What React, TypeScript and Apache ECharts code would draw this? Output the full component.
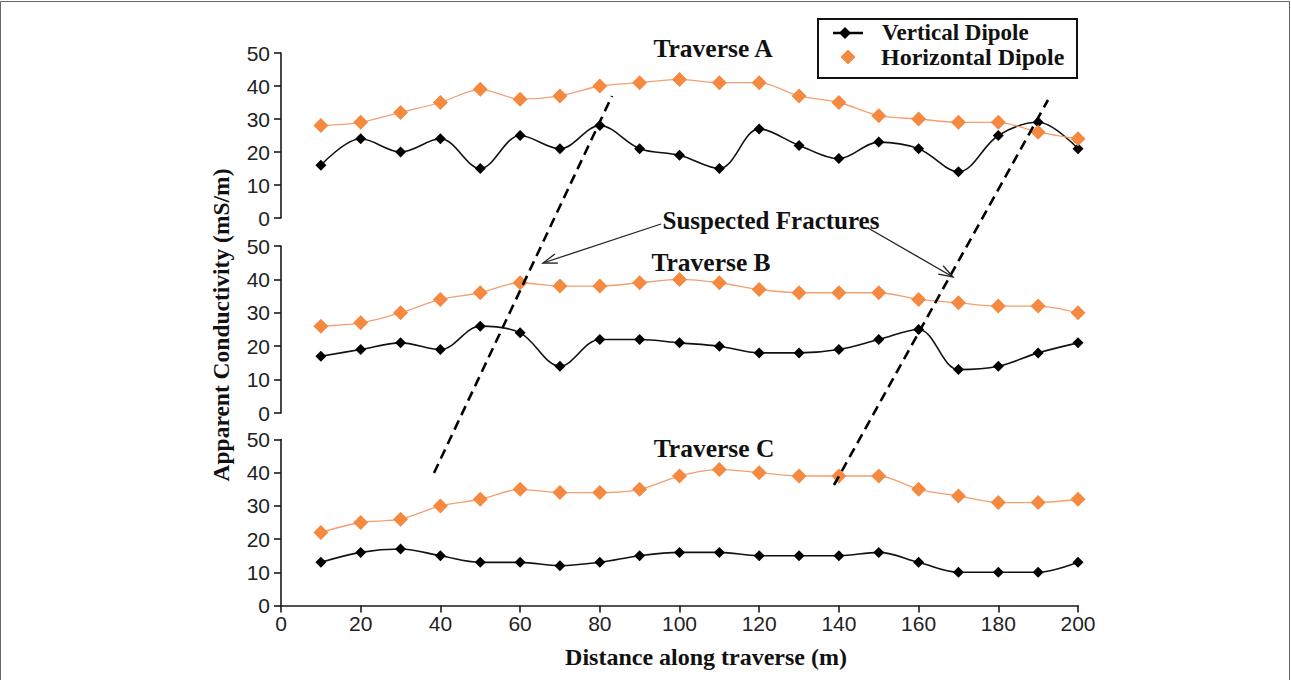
import React, { useEffect, useRef } from "react";
import * as echarts from "echarts";

// ---- data ----
const distances = [10, 20, 30, 40, 50, 60, 70, 80, 90, 100, 110, 120, 130, 140, 150, 160, 170, 180, 190, 200];
const xTicks = { min: 0, max: 200, interval: 20 };
const yTicks = { min: 0, max: 50, interval: 10 };

const traverseAVertical = [16, 24, 20, 24, 15, 25, 21, 28, 21, 19, 15, 27, 22, 18, 23, 21, 14, 25, 29, 21];
const traverseAHorizontal = [28, 29, 32, 35, 39, 36, 37, 40, 41, 42, 41, 41, 37, 35, 31, 30, 29, 29, 26, 24];
const traverseBVertical = [17, 19, 21, 19, 26, 24, 14, 22, 22, 21, 20, 18, 18, 19, 22, 25, 13, 14, 18, 21];
const traverseBHorizontal = [26, 27, 30, 34, 36, 39, 38, 38, 39, 40, 39, 37, 36, 36, 36, 34, 33, 32, 32, 30];
const traverseCVertical = [13, 16, 17, 15, 13, 13, 12, 13, 15, 16, 16, 15, 15, 15, 16, 13, 10, 10, 10, 13];
const traverseCHorizontal = [22, 25, 26, 30, 32, 35, 34, 34, 35, 39, 41, 40, 39, 39, 39, 35, 33, 31, 31, 32];

const panelTitles = ["Traverse A", "Traverse B", "Traverse C"];
const seriesNames = ["Vertical Dipole", "Horizontal Dipole"];
const xAxisTitle = "Distance along traverse (m)";
const yAxisTitle = "Apparent Conductivity (mS/m)";
const annotationText = "Suspected Fractures";

const panels = [
  { vertical: traverseAVertical, horizontal: traverseAHorizontal },
  { vertical: traverseBVertical, horizontal: traverseBHorizontal },
  { vertical: traverseCVertical, horizontal: traverseCHorizontal },
];

// ---- styles ----
const SERIF = "'Liberation Serif', 'Times New Roman', serif";
const SANS = "'Liberation Sans', Arial, sans-serif";
const ORANGE = "#F5893F";
const ORANGE_LINE = "#F2A070";
const INK = "#1a1a1a";

const gridBoxes = [
  { top: 53, height: 165 },
  { top: 246, height: 167 },
  { top: 439.5, height: 166 },
];

function arrowHead(tipX: number, tipY: number, fromX: number, fromY: number, len = 15, ang = 0.33) {
  const a = Math.atan2(fromY - tipY, fromX - tipX);
  return [
    [tipX + len * Math.cos(a + ang), tipY + len * Math.sin(a + ang)],
    [tipX, tipY],
    [tipX + len * Math.cos(a - ang), tipY + len * Math.sin(a - ang)],
  ];
}

function diamond(cx: number, cy: number, s: number) {
  const h = s / 2;
  return [
    [cx, cy - h],
    [cx + h, cy],
    [cx, cy + h],
    [cx - h, cy],
  ];
}

export default function App() {
  const ref = useRef<HTMLDivElement>(null);

  useEffect(() => {
    if (!ref.current) return;
    const chart = echarts.init(ref.current, null, { renderer: "svg" });

    const grids = gridBoxes.map((g) => ({ left: 281, right: 213, top: g.top, height: g.height }));

    const xAxes = gridBoxes.map((_, i) => {
      const isBottom = i === gridBoxes.length - 1;
      return {
        type: "value",
        gridIndex: i,
        min: xTicks.min,
        max: xTicks.max,
        interval: xTicks.interval,
        show: isBottom,
        axisLine: { show: isBottom, onZero: false, lineStyle: { color: INK, width: 1.6 } },
        axisTick: { show: isBottom, length: 7, inside: false, lineStyle: { color: INK, width: 1.6 } },
        axisLabel: { show: isBottom, margin: 7, color: "#222", fontFamily: SANS, fontSize: 21 },
        splitLine: { show: false },
      };
    });

    const yAxes = gridBoxes.map((_, i) => ({
      type: "value",
      gridIndex: i,
      min: yTicks.min,
      max: yTicks.max,
      interval: yTicks.interval,
      axisLine: { show: true, lineStyle: { color: INK, width: 1.6 } },
      axisTick: { show: true, length: 7, inside: false, lineStyle: { color: INK, width: 1.6 } },
      axisLabel: { margin: 11, color: "#222", fontFamily: SANS, fontSize: 21 },
      splitLine: { show: false },
    }));

    const series: any[] = [];
    panels.forEach((p, i) => {
      series.push({
        type: "line",
        name: seriesNames[0],
        xAxisIndex: i,
        yAxisIndex: i,
        data: distances.map((d, k) => [d, p.vertical[k]]),
        smooth: 0.35,
        symbol: "diamond",
        symbolSize: 11,
        lineStyle: { color: "#111", width: 1.6 },
        itemStyle: { color: "#000" },
        z: 2,
      });
      series.push({
        type: "line",
        name: seriesNames[1],
        xAxisIndex: i,
        yAxisIndex: i,
        data: distances.map((d, k) => [d, p.horizontal[k]]),
        smooth: 0.3,
        symbol: "diamond",
        symbolSize: 15,
        lineStyle: { color: ORANGE_LINE, width: 1.3 },
        itemStyle: { color: ORANGE },
        z: 3,
      });
    });

    const boldText = (text: string, x: number, y: number, size = 24, extra: any = {}) => ({
      type: "text",
      x,
      y,
      ...extra,
      style: {
        text,
        fill: "#111",
        font: `bold ${size}px ${SERIF}`,
        align: "center",
        verticalAlign: "middle",
      },
      z: 10,
    });

    const leftArrow = { from: [661, 224], tip: [543, 263] };
    const rightArrow = { from: [868, 228], tip: [953, 277] };

    const graphic: any[] = [
      // frame
      {
        type: "rect",
        shape: { x: 0.5, y: 1.5, width: 1289, height: 700 },
        style: { fill: "none", stroke: "#666", lineWidth: 1 },
        silent: true,
      },
      // panel titles
      boldText(panelTitles[0], 713, 48.5, 25.5),
      boldText(panelTitles[1], 711, 262, 25.5),
      boldText(panelTitles[2], 714, 448.5, 25.5),
      boldText(annotationText, 771, 220, 25),
      // axis titles
      boldText(xAxisTitle, 706, 657, 24),
      boldText(yAxisTitle, 221, 325, 23.5, { rotation: Math.PI / 2 }),
      // dashed fracture lines
      {
        type: "line",
        shape: { x1: 434, y1: 473, x2: 612, y2: 96 },
        style: { stroke: "#000", lineWidth: 2.6, lineDash: [10, 6] },
        z: 5,
      },
      {
        type: "line",
        shape: { x1: 834, y1: 485, x2: 1048, y2: 100 },
        style: { stroke: "#000", lineWidth: 2.6, lineDash: [10, 6] },
        z: 5,
      },
      // arrows
      {
        type: "line",
        shape: { x1: leftArrow.from[0], y1: leftArrow.from[1], x2: leftArrow.tip[0], y2: leftArrow.tip[1] },
        style: { stroke: "#222", lineWidth: 1.3 },
        z: 5,
      },
      {
        type: "polyline",
        shape: { points: arrowHead(leftArrow.tip[0], leftArrow.tip[1], leftArrow.from[0], leftArrow.from[1]) },
        style: { stroke: "#222", lineWidth: 1.3, fill: "none" },
        z: 5,
      },
      {
        type: "line",
        shape: { x1: rightArrow.from[0], y1: rightArrow.from[1], x2: rightArrow.tip[0], y2: rightArrow.tip[1] },
        style: { stroke: "#222", lineWidth: 1.3 },
        z: 5,
      },
      {
        type: "polyline",
        shape: { points: arrowHead(rightArrow.tip[0], rightArrow.tip[1], rightArrow.from[0], rightArrow.from[1]) },
        style: { stroke: "#222", lineWidth: 1.3, fill: "none" },
        z: 5,
      },
      // legend box
      {
        type: "rect",
        shape: { x: 818, y: 19, width: 259, height: 59 },
        style: { fill: "#fff", stroke: "#111", lineWidth: 2 },
        z: 20,
      },
      {
        type: "line",
        shape: { x1: 833, y1: 33, x2: 863, y2: 33 },
        style: { stroke: "#000", lineWidth: 2.5 },
        z: 21,
      },
      {
        type: "polygon",
        shape: { points: diamond(845, 33, 12) },
        style: { fill: "#000" },
        z: 22,
      },
      {
        type: "polygon",
        shape: { points: diamond(848, 57, 15) },
        style: { fill: ORANGE },
        z: 22,
      },
      {
        type: "text",
        x: 882,
        y: 32.5,
        style: { text: seriesNames[0], fill: "#111", font: `bold 23px ${SERIF}`, align: "left", verticalAlign: "middle" },
        z: 22,
      },
      {
        type: "text",
        x: 881,
        y: 57,
        style: { text: seriesNames[1], fill: "#111", font: `bold 24px ${SERIF}`, align: "left", verticalAlign: "middle" },
        z: 22,
      },
    ];

    chart.setOption({
      animation: false,
      backgroundColor: "#fff",
      grid: grids,
      xAxis: xAxes,
      yAxis: yAxes,
      series,
      graphic,
    });

    return () => chart.dispose();
  }, []);

  return (
    <div
      ref={ref}
      style={{ position: "fixed", left: 0, top: 0, width: 1291, height: 680, background: "#fff" }}
    />
  );
}
